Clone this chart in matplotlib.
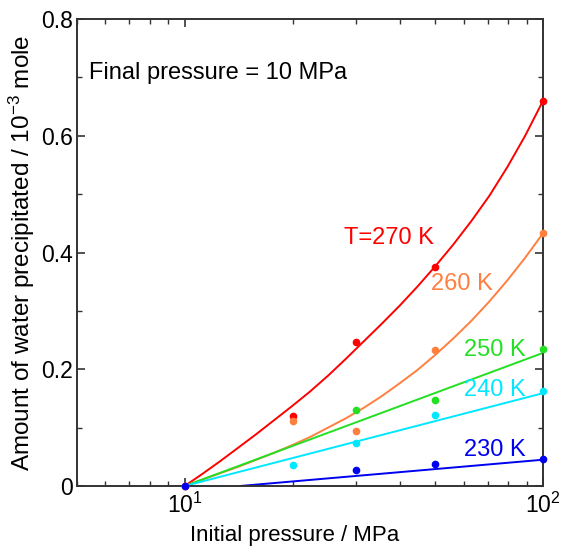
import numpy as np
import matplotlib
matplotlib.use("Agg")
from matplotlib import pyplot as plt
from matplotlib.ticker import LogLocator, MultipleLocator, FixedLocator, NullFormatter

plt.rcParams['font.family'] = ['Liberation Sans', 'DejaVu Sans']
plt.rcParams['mathtext.fontset'] = 'custom'
plt.rcParams['mathtext.rm'] = 'Liberation Sans'
plt.rcParams['mathtext.it'] = 'Liberation Sans:italic'

# measured points (initial pressure / MPa, amount / 1e-3 mole)
p_meas = [10, 20, 30, 50, 100]
n270 = [0.0, 0.120, 0.246, 0.375, 0.660]
n260 = [0.0, 0.111, 0.094, 0.233, 0.434]
p250 = [30, 50, 100]
n250 = [0.131, 0.147, 0.235]
p240 = [20, 30, 50, 100]
n240 = [0.036, 0.074, 0.122, 0.163]
p230 = [10, 30, 50, 100]
n230 = [0.0, 0.027, 0.038, 0.046]

# calculated curves
pc_curve = [10, 11.22, 12.59, 14.13, 15.85, 17.78, 19.95, 22.39, 25.12, 28.18, 31.62,
            35.48, 39.81, 44.67, 50.12, 56.23, 63.10, 70.79, 79.43, 89.13, 100]
c270 = [0.0, 0.021, 0.043, 0.066, 0.089, 0.113, 0.137, 0.162, 0.189, 0.218, 0.248,
        0.278, 0.309, 0.342, 0.377, 0.414, 0.454, 0.497, 0.546, 0.600, 0.660]
c260 = [0.0, 0.011, 0.022, 0.033, 0.045, 0.057, 0.070, 0.084, 0.100, 0.116, 0.134,
        0.154, 0.176, 0.199, 0.225, 0.253, 0.283, 0.316, 0.352, 0.391, 0.433]
pc250 = [10, 100]
c250 = [0.0, 0.228]
pc240 = [10, 100]
c240 = [0.0, 0.159]
pc230 = [14.3, 100]
c230 = [0.0, 0.045]

labels = ['T=270 K', '260 K', '250 K', '240 K', '230 K']
label_x = [37.2, 59.4, 73.4, 73.4, 73.4]
label_y = [0.425, 0.346, 0.233, 0.164, 0.062]
colors = ['#ff0000', '#ff7f3f', '#22e022', '#00e8ff', '#0000f0']

fig = plt.figure(figsize=(5.61, 5.5), dpi=100)
ax = fig.add_axes([0.137, 0.1164, 0.831, 0.849])

curves = [(pc_curve, c270), (pc_curve, c260), (pc250, c250), (pc240, c240), (pc230, c230)]
points = [(p_meas, n270), (p_meas, n260), (p250, n250), (p240, n240), (p230, n230)]
for (pc, c), (pm, nm), col in zip(curves, points, colors):
    ax.plot(pc, c, color=col, lw=1.4, solid_joinstyle='round')
    ax.plot(pm, nm, 'o', color=col, ms=4.5, clip_on=False, zorder=5)

for lab, lx, ly, col in zip(labels, label_x, label_y, colors):
    ax.text(lx, ly, lab, color=col, fontsize=17, ha='center', va='center')

ax.text(5.41, 0.7075, 'Final pressure = 10 MPa', fontsize=17, ha='left', va='center')

ax.set_xscale('log')
ax.set_xlim(5, 100)
ax.set_ylim(0, 0.8)
ax.xaxis.set_major_locator(FixedLocator([10, 100]))
ax.set_xticklabels(['$10^1$', '$10^2$'])
ax.xaxis.set_minor_locator(LogLocator(base=10, subs=np.arange(2, 10)))
ax.xaxis.set_minor_formatter(NullFormatter())
ax.yaxis.set_major_locator(MultipleLocator(0.2))
ax.yaxis.set_minor_locator(MultipleLocator(0.1))
ax.set_yticks([0, 0.2, 0.4, 0.6, 0.8])
ax.set_yticklabels(['0', '0.2', '0.4', '0.6', '0.8'])

ax.tick_params(which='both', direction='in', top=True, right=True, labelsize=16.5,
               color='#333333')
ax.tick_params(which='major', length=6, width=1.2)
ax.tick_params(which='minor', length=3.5, width=1.0)
ax.tick_params(axis='x', pad=5)
ax.tick_params(axis='y', pad=3)
for s in ax.spines.values():
    s.set_color('#333333')
    s.set_linewidth(1.4)

ax.set_xlabel('Initial pressure / MPa', fontsize=16)
ax.xaxis.set_label_coords(0.468, -0.084)
ax.set_ylabel('Amount of water precipitated / $10^{-3}$ mole', fontsize=17.5, labelpad=3)

fig.savefig('out.png', dpi=100)
